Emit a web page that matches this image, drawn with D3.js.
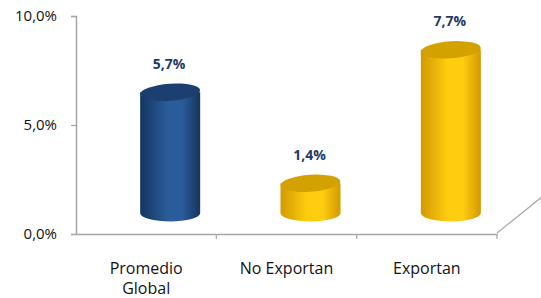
<!DOCTYPE html>
<html>
<head>
<meta charset="utf-8">
<script src="https://cdn.jsdelivr.net/npm/d3@7"></script>
<style>
  body { margin: 0; background: #fff; }
  svg { display: block; }
</style>
</head>
<body>
<script>
const categories = [["Promedio", "Global"], ["No Exportan"], ["Exportan"]];
const values = [5.7, 1.4, 7.7];
const valueLabels = ["5,7%", "1,4%", "7,7%"];
const barColors = ["blue", "yellow", "yellow"];
const yTicks = [0, 5, 10];
const yTickLabels = ["0,0%", "5,0%", "10,0%"];

const width = 541;
const height = 298;
const margin = {top: 16, right: 44, bottom: 64, left: 76};
const depth = {dx: 24, dy: -21};

const svg = d3.select("body")
    .append("svg")
    .attr("width", width)
    .attr("height", height);

const defs = svg.append("defs");
const palettes = {
    blue: {edge: "#15355f", mid: "#2a5b9b", top: "#1b3f70"},
    yellow: {edge: "#d29a00", mid: "#ffcd10", top: "#d4a200"}
};
Object.keys(palettes).forEach(function (k) {
    const p = palettes[k];
    const g = defs.append("linearGradient").attr("id", "body-" + k)
        .attr("x1", "0%").attr("x2", "100%").attr("y1", "0%").attr("y2", "0%");
    g.append("stop").attr("offset", "0%").attr("stop-color", p.edge);
    g.append("stop").attr("offset", "45%").attr("stop-color", p.mid);
    g.append("stop").attr("offset", "70%").attr("stop-color", p.mid);
    g.append("stop").attr("offset", "100%").attr("stop-color", p.edge);
});

const x = d3.scaleBand()
    .domain(d3.range(values.length))
    .range([margin.left, width - margin.right]);

const y = d3.scaleLinear()
    .domain([0, 10])
    .range([height - margin.bottom, margin.top]);

// bars stand on the floor, a bit deeper than the axis
const yBar = d3.scaleLinear()
    .domain([0, 10])
    .range([y(0) + depth.dy, y(0) + depth.dy - 212]);

// floor edge going back
svg.append("line")
    .attr("x1", x.range()[1]).attr("y1", y(0) - 1)
    .attr("x2", x.range()[1] + 56).attr("y2", y(0) - 1 - 45)
    .attr("stroke", "#a6a6a6").attr("stroke-width", 1.2);

// Y axis
const yAxis = svg.append("g")
    .attr("transform", "translate(" + margin.left + ",0)")
    .call(d3.axisLeft(y).tickValues(yTicks).tickSize(5)
        .tickFormat(function (d, i) { return yTickLabels[i]; }));
yAxis.select(".domain").attr("stroke", "#a6a6a6").attr("stroke-width", 1.5);
yAxis.selectAll(".tick line").attr("stroke", "#a6a6a6").attr("stroke-width", 1.2);
yAxis.selectAll(".tick text")
    .attr("x", -19)
    .attr("font-family", "'Open Sans', sans-serif")
    .attr("font-size", 15)
    .attr("fill", "#111");

// X axis
const xAxis = svg.append("g")
    .attr("transform", "translate(0," + y(0) + ")")
    .call(d3.axisBottom(x).tickSize(0).tickFormat(""));
xAxis.select(".domain").attr("stroke", "#a6a6a6").attr("stroke-width", 1.5);
xAxis.selectAll(".sep")
    .data(d3.range(values.length))
    .enter().append("line")
    .attr("class", "sep")
    .attr("x1", function (d) { return x(d) + x.bandwidth(); })
    .attr("x2", function (d) { return x(d) + x.bandwidth(); })
    .attr("y1", 0).attr("y2", 5)
    .attr("stroke", "#a6a6a6").attr("stroke-width", 1.2);

svg.selectAll(".cat")
    .data(categories)
    .enter().append("text")
    .attr("class", "cat")
    .attr("text-anchor", "middle")
    .attr("font-family", "'Open Sans', sans-serif")
    .attr("font-size", 16)
    .attr("fill", "#111")
    .each(function (lines, i) {
        const t = d3.select(this);
        lines.forEach(function (s, j) {
            t.append("tspan")
                .attr("x", x(i) + x.bandwidth() / 2)
                .attr("y", y(0) + 40 + j * 20)
                .text(s);
        });
    });

// cylinders
const rx = 30;
const ry = 8.5;
const bars = svg.selectAll(".bar")
    .data(values)
    .enter().append("g")
    .attr("class", "bar");

bars.each(function (v, i) {
    const g = d3.select(this);
    const cx = x(i) + x.bandwidth() / 2 + depth.dx;
    const yb = yBar(0);
    const yt = yBar(v);
    const p = palettes[barColors[i]];
    g.append("path")
        .attr("d", "M" + (cx - rx) + "," + yt +
            "L" + (cx - rx) + "," + yb +
            "A" + rx + "," + ry + " 0 0 0 " + (cx + rx) + "," + yb +
            "L" + (cx + rx) + "," + yt + "Z")
        .attr("fill", "url(#body-" + barColors[i] + ")");
    g.append("ellipse")
        .attr("cx", cx).attr("cy", yt)
        .attr("rx", rx).attr("ry", ry)
        .attr("transform", "rotate(-4," + cx + "," + yt + ")")
        .attr("fill", p.top);
    g.append("text")
        .attr("x", cx - 1)
        .attr("y", yt - ry - 15)
        .attr("text-anchor", "middle")
        .attr("font-family", "'Open Sans', sans-serif")
        .attr("font-weight", "bold")
        .attr("font-size", 14)
        .attr("fill", "#1f3b66")
        .text(valueLabels[i]);
});
</script>
</body>
</html>
